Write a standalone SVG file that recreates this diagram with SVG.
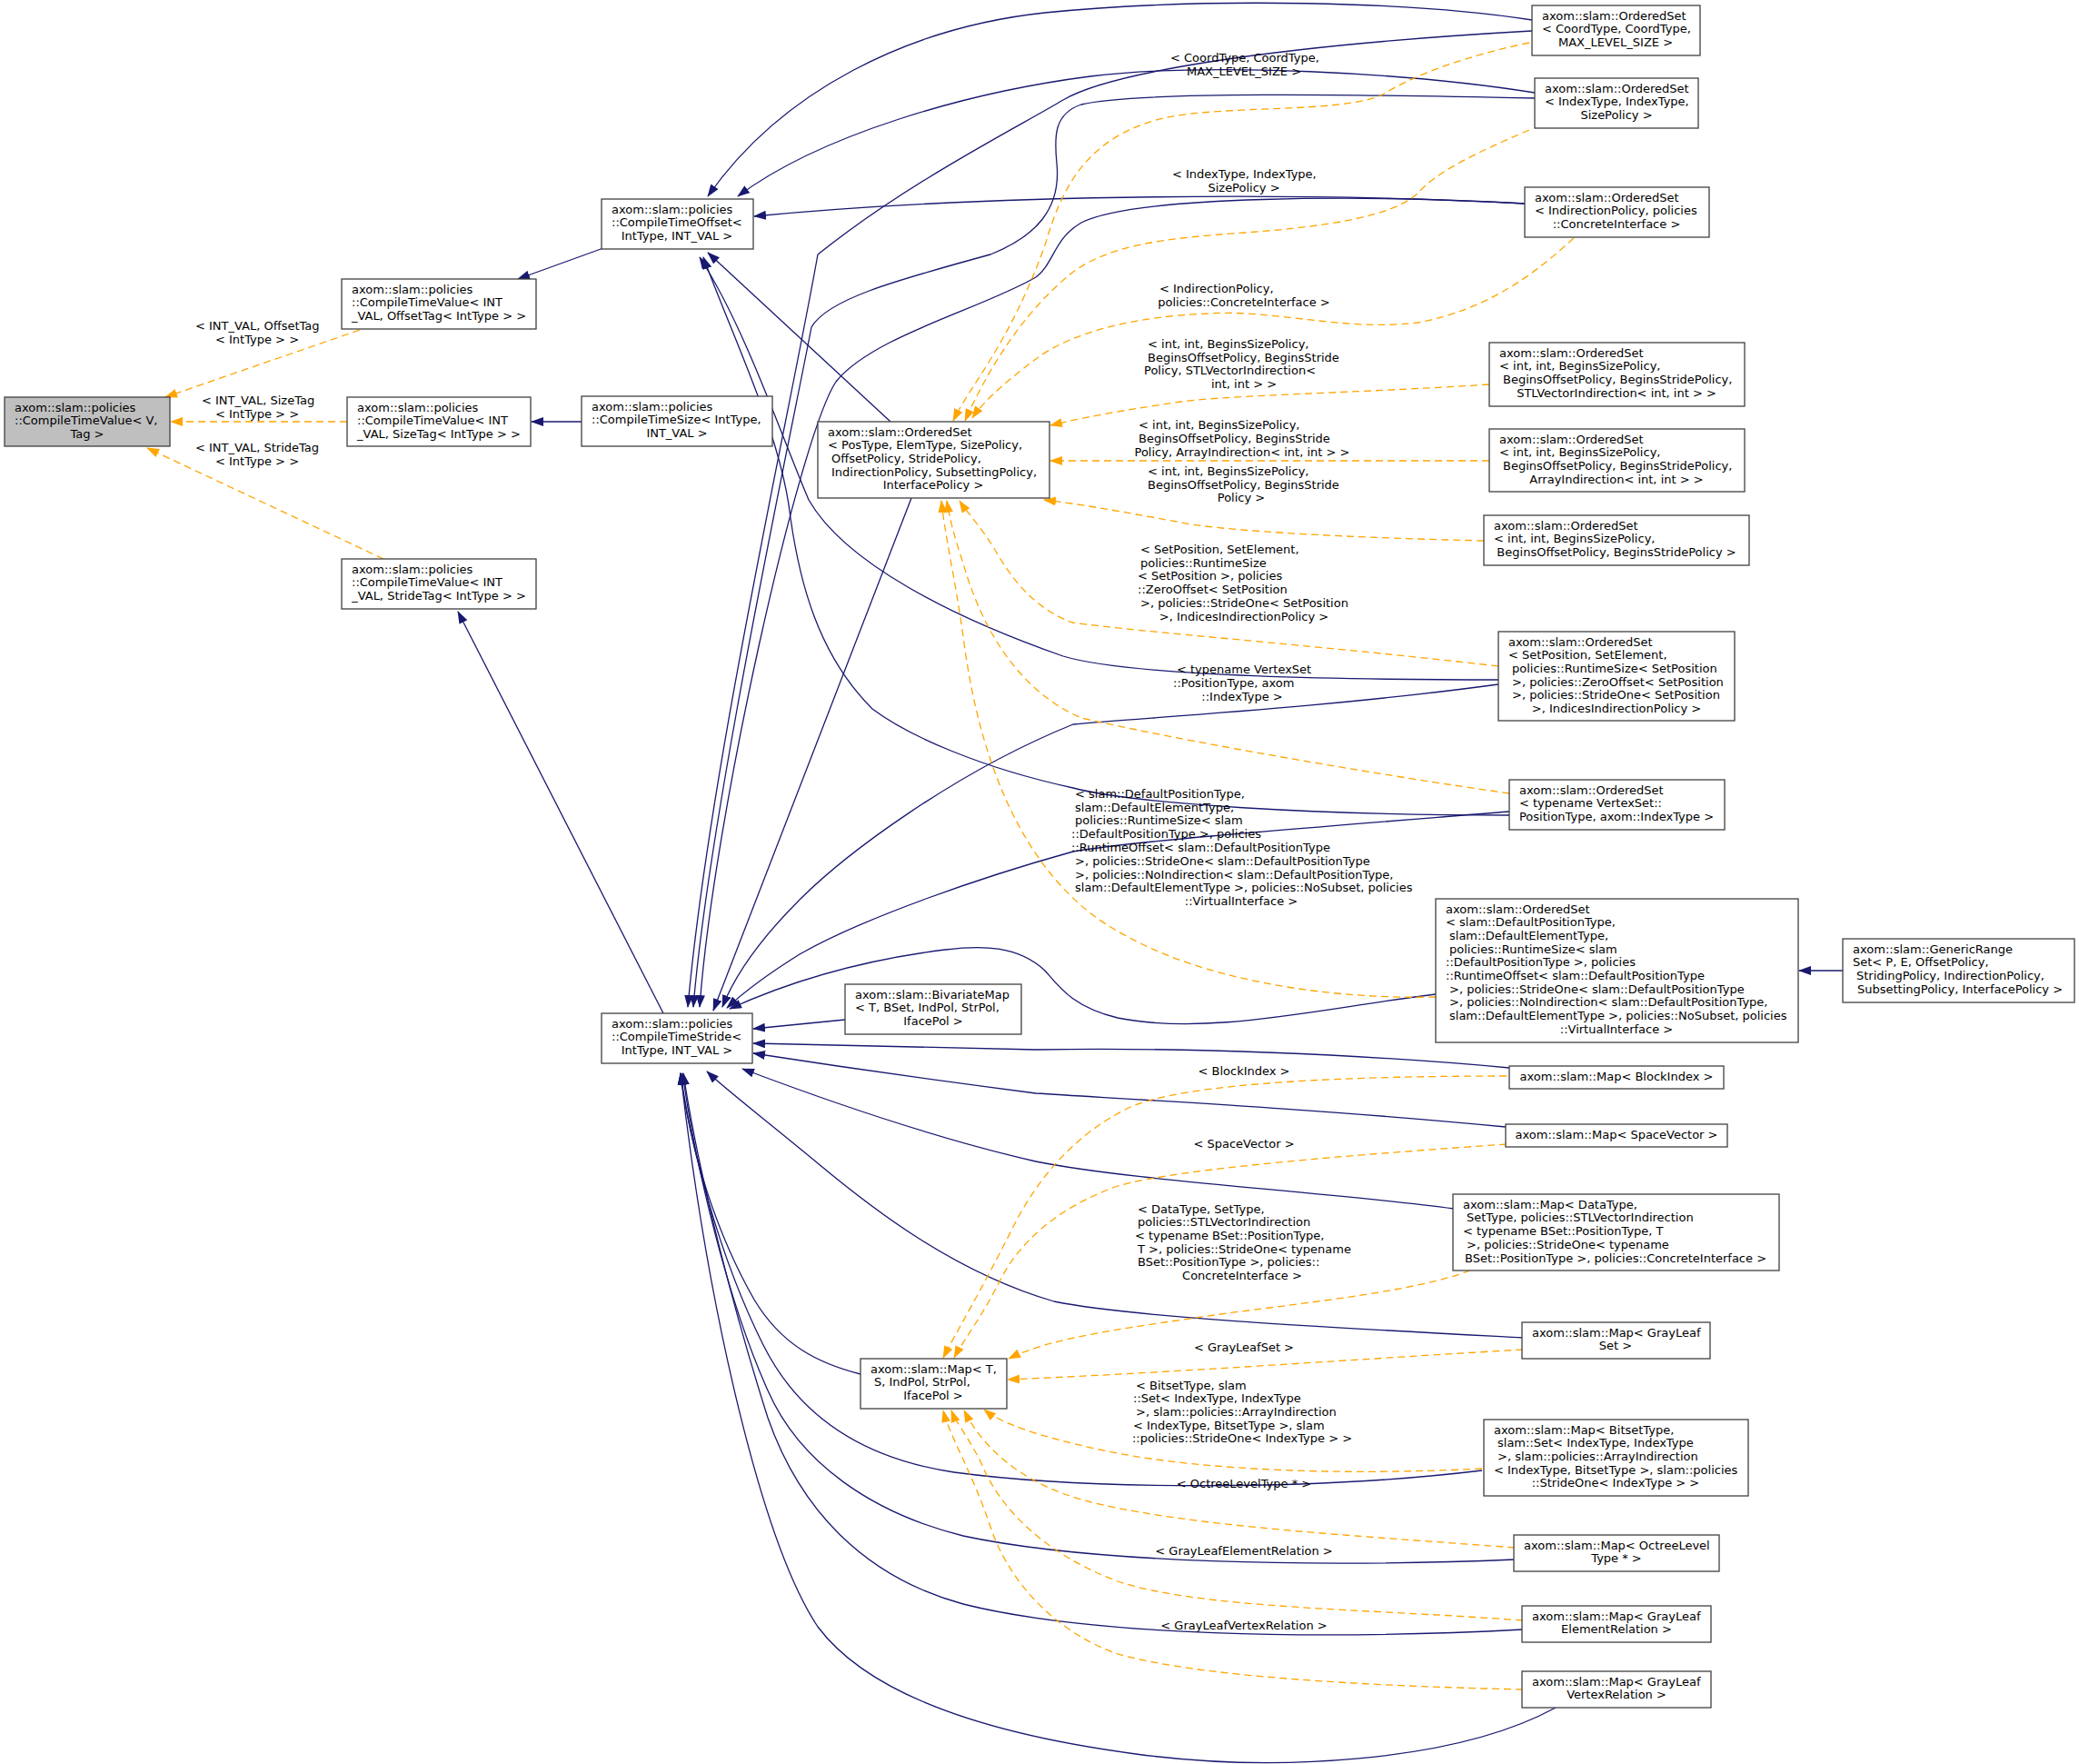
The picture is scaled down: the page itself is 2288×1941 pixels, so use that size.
<svg xmlns="http://www.w3.org/2000/svg" width="2288" height="1941" viewBox="0 0 2288 1941">
<style>
text{font-family:"DejaVu Sans","Liberation Sans",sans-serif;font-size:13px;fill:#000}
.m{text-anchor:middle}
.n rect{fill:#fff;stroke:#404040;stroke-width:1.3}
.root rect{fill:#bfbfbf;stroke:#404040;stroke-width:1.3}
.e path{fill:none;stroke-width:1.3}
.e .b{stroke:#191970;marker-end:url(#ab)}
.e .o{stroke:#ffa500;stroke-dasharray:8,5;marker-end:url(#ao)}
</style>
<defs>
<marker id="ab" viewBox="0 0 14 10" refX="13" refY="5" markerWidth="14" markerHeight="10" markerUnits="userSpaceOnUse" orient="auto"><path d="M0,0 L14,5 L0,10 z" fill="#191970"/></marker>
<marker id="ao" viewBox="0 0 14 10" refX="13" refY="5" markerWidth="14" markerHeight="10" markerUnits="userSpaceOnUse" orient="auto"><path d="M0,0 L14,5 L0,10 z" fill="#ffa500"/></marker>
</defs>
<rect width="2288" height="1941" fill="#fff"/>
<g id="edges" class="e">
<path class="b" d="M664,273 L570,307"/>
<path class="b" d="M640,464 L585,464"/>
<path class="b" d="M730,1115 L504,673"/>
<path class="b" d="M980,464 L779,278"/>
<path class="b" d="M1003,548 L785,1112"/>
<path class="b" d="M1686,22 C1560,2 1330,-4 1150,14 C1000,30 860,100 779,216"/>
<path class="b" d="M1689,102 C1550,80 1330,68 1200,84 C1060,102 900,150 812,216"/>
<path class="b" d="M1678,224 C1450,212 1100,212 830,238"/>
<path class="b" d="M1686,34 C1400,50 1220,80 1170,110 C1120,140 1000,200 900,280 C870,450 780,850 757,1108"/>
<path class="b" d="M1689,108 C1500,104 1250,100 1190,115 C1160,125 1160,150 1163,180 C1168,230 1140,260 1090,280 C980,310 910,330 893,360 C870,480 780,900 763,1108"/>
<path class="b" d="M1678,224 C1500,214 1250,215 1190,245 C1160,262 1160,290 1140,305 C1080,340 960,370 920,420 C880,480 785,900 770,1108"/>
<path class="b" d="M1649,748 C1400,748 1230,740 1170,722 C1050,680 930,620 890,550 C860,480 820,360 770,283"/>
<path class="b" d="M1661,897 C1450,897 1250,885 1181,867 C1080,845 1000,810 960,780 C900,720 880,640 870,570 C860,480 810,380 774,283"/>
<path class="b" d="M1649,753 C1450,780 1250,790 1181,797 C1050,850 930,940 880,990 C840,1030 810,1070 795,1108"/>
<path class="b" d="M1661,893 C1450,910 1250,925 1181,937 C1080,965 950,1010 880,1050 C840,1075 815,1095 800,1109"/>
<path class="b" d="M1580,1094 C1450,1110 1330,1140 1230,1120 C1180,1108 1165,1085 1150,1068 C1120,1040 1080,1040 1040,1045 C960,1055 880,1075 803,1110"/>
<path class="b" d="M930,1122 L829,1132"/>
<path class="b" d="M1661,1175 C1500,1160 1300,1152 1140,1155 C1000,1152 900,1150 829,1148"/>
<path class="b" d="M1657,1240 C1450,1220 1250,1210 1140,1203 C1000,1185 900,1170 829,1159"/>
<path class="b" d="M1600,1330 C1450,1310 1250,1300 1140,1278 C1040,1255 920,1215 817,1176"/>
<path class="b" d="M1676,1472 C1450,1460 1250,1450 1160,1432 C1050,1400 960,1330 900,1280 C840,1230 800,1200 778,1179"/>
<path class="b" d="M947,1512 C900,1500 860,1480 830,1430 C790,1360 760,1270 749,1181"/>
<path class="b" d="M1631,1618 C1450,1640 1200,1640 1050,1620 C950,1605 880,1560 840,1480 C790,1380 760,1260 749,1181"/>
<path class="b" d="M1667,1716 C1450,1725 1200,1720 1060,1690 C960,1665 880,1610 845,1530 C800,1430 765,1280 751,1181"/>
<path class="b" d="M1676,1793 C1450,1805 1200,1800 1060,1765 C950,1735 880,1660 845,1560 C810,1450 770,1300 752,1181"/>
<path class="b" d="M1712,1879 C1600,1940 1400,1950 1250,1930 C1100,1910 960,1870 900,1790 C840,1700 780,1450 749,1181"/>
<path class="b" d="M2028,1068 L1980,1068"/>
<path class="o" d="M396,363 L182,437"/>
<path class="o" d="M382,464 L188,464"/>
<path class="o" d="M422,615 L162,493"/>
<path class="o" d="M1683,47 C1620,60 1560,80 1520,105 C1470,125 1350,115 1280,130 C1200,150 1170,200 1150,270 C1110,380 1070,420 1049,463"/>
<path class="o" d="M1683,143 C1620,170 1580,190 1560,213 C1530,240 1450,250 1370,256 C1280,262 1220,270 1180,300 C1130,340 1090,400 1062,463"/>
<path class="o" d="M1732,262 C1690,300 1640,340 1560,355 C1480,365 1400,340 1330,345 C1250,348 1180,365 1140,395 C1100,425 1080,445 1070,460"/>
<path class="o" d="M1639,423 C1500,432 1350,435 1300,442 C1230,452 1190,460 1156,468"/>
<path class="o" d="M1639,507 L1156,507"/>
<path class="o" d="M1633,595 C1500,592 1350,585 1300,575 C1230,562 1190,555 1149,550"/>
<path class="o" d="M1649,733 C1450,710 1250,695 1180,685 C1140,670 1115,640 1095,605 C1080,580 1065,565 1056,551"/>
<path class="o" d="M1661,873 C1500,850 1300,815 1190,790 C1120,760 1080,690 1060,620 C1050,590 1045,570 1042,551"/>
<path class="o" d="M1580,1097 C1450,1100 1320,1075 1240,1030 C1140,980 1080,860 1060,700 C1050,630 1040,590 1036,551"/>
<path class="o" d="M1658,1184 C1500,1184 1300,1190 1240,1220 C1180,1250 1140,1300 1115,1350 C1080,1420 1050,1470 1038,1494"/>
<path class="o" d="M1658,1259 C1500,1270 1300,1285 1230,1305 C1160,1330 1120,1370 1100,1410 C1080,1450 1060,1475 1050,1494"/>
<path class="o" d="M1618,1398 C1560,1420 1450,1432 1350,1445 C1250,1460 1160,1470 1110,1495"/>
<path class="o" d="M1676,1485 C1500,1495 1300,1510 1109,1518"/>
<path class="o" d="M1631,1616 C1450,1625 1300,1615 1210,1595 C1140,1580 1100,1565 1083,1551"/>
<path class="o" d="M1667,1703 C1500,1690 1300,1680 1190,1650 C1120,1630 1080,1590 1061,1552"/>
<path class="o" d="M1676,1783 C1500,1770 1320,1770 1230,1740 C1150,1710 1100,1660 1080,1610 C1065,1580 1052,1565 1047,1552"/>
<path class="o" d="M1676,1859 C1500,1855 1320,1845 1230,1820 C1160,1795 1110,1740 1090,1680 C1070,1620 1045,1580 1038,1552"/>
</g>
<g id="edge-labels">
<text x="215" y="363">&lt; INT_VAL, OffsetTag</text><text class="m" x="283" y="378">&lt; IntType &gt; &gt;</text>
<text x="222" y="445">&lt; INT_VAL, SizeTag</text><text class="m" x="283" y="460">&lt; IntType &gt; &gt;</text>
<text x="215" y="497">&lt; INT_VAL, StrideTag</text><text class="m" x="283" y="512">&lt; IntType &gt; &gt;</text>
<text x="1288" y="68">&lt; CoordType, CoordType,</text><text class="m" x="1369" y="83">MAX_LEVEL_SIZE &gt;</text>
<text x="1290" y="196">&lt; IndexType, IndexType,</text><text class="m" x="1369" y="211">SizePolicy &gt;</text>
<text x="1276" y="322">&lt; IndirectionPolicy,</text><text class="m" x="1369" y="337">policies::ConcreteInterface &gt;</text>
<text x="1263" y="383">&lt; int, int, BeginsSizePolicy,</text><text x="1263" y="398">BeginsOffsetPolicy, BeginsStride</text><text x="1259" y="412">Policy, STLVectorIndirection&lt;</text><text class="m" x="1369" y="427">int, int &gt; &gt;</text>
<text x="1253" y="472">&lt; int, int, BeginsSizePolicy,</text><text x="1253" y="487">BeginsOffsetPolicy, BeginsStride</text><text class="m" x="1367" y="502">Policy, ArrayIndirection&lt; int, int &gt; &gt;</text>
<text x="1263" y="523">&lt; int, int, BeginsSizePolicy,</text><text x="1263" y="538">BeginsOffsetPolicy, BeginsStride</text><text class="m" x="1366" y="552">Policy &gt;</text>
<text x="1255" y="609">&lt; SetPosition, SetElement,</text><text x="1255" y="624">policies::RuntimeSize</text><text x="1252" y="638">&lt; SetPosition &gt;, policies</text><text x="1252" y="653">::ZeroOffset&lt; SetPosition</text><text x="1255" y="668">&gt;, policies::StrideOne&lt; SetPosition</text><text class="m" x="1369" y="683">&gt;, IndicesIndirectionPolicy &gt;</text>
<text x="1295" y="741">&lt; typename VertexSet</text><text x="1291" y="756">::PositionType, axom</text><text class="m" x="1367" y="771">::IndexType &gt;</text>
<text x="1183" y="878">&lt; slam::DefaultPositionType,</text><text x="1183" y="893">slam::DefaultElementType,</text><text x="1183" y="907">policies::RuntimeSize&lt; slam</text><text x="1179" y="922">::DefaultPositionType &gt;, policies</text><text x="1179" y="937">::RuntimeOffset&lt; slam::DefaultPositionType</text><text x="1183" y="952">&gt;, policies::StrideOne&lt; slam::DefaultPositionType</text><text x="1183" y="967">&gt;, policies::NoIndirection&lt; slam::DefaultPositionType,</text><text x="1183" y="981">slam::DefaultElementType &gt;, policies::NoSubset, policies</text><text class="m" x="1366" y="996">::VirtualInterface &gt;</text>
<text class="m" x="1369" y="1183">&lt; BlockIndex &gt;</text>
<text class="m" x="1369" y="1263">&lt; SpaceVector &gt;</text>
<text x="1252" y="1335">&lt; DataType, SetType,</text><text x="1252" y="1349">policies::STLVectorIndirection</text><text x="1249" y="1364">&lt; typename BSet::PositionType,</text><text x="1252" y="1379">T &gt;, policies::StrideOne&lt; typename</text><text x="1252" y="1393">BSet::PositionType &gt;, policies::</text><text class="m" x="1367" y="1408">ConcreteInterface &gt;</text>
<text class="m" x="1369" y="1487">&lt; GrayLeafSet &gt;</text>
<text x="1250" y="1529">&lt; BitsetType, slam</text><text x="1247" y="1543">::Set&lt; IndexType, IndexType</text><text x="1250" y="1558">&gt;, slam::policies::ArrayIndirection</text><text x="1247" y="1573">&lt; IndexType, BitsetType &gt;, slam</text><text class="m" x="1367" y="1587">::policies::StrideOne&lt; IndexType &gt; &gt;</text>
<text class="m" x="1369" y="1637">&lt; OctreeLevelType * &gt;</text>
<text class="m" x="1369" y="1711">&lt; GrayLeafElementRelation &gt;</text>
<text class="m" x="1369" y="1793">&lt; GrayLeafVertexRelation &gt;</text>
</g>
<g id="nodeA" class="root"><rect x="5" y="437" width="182" height="54"/><text x="16" y="453">axom::slam::policies</text><text x="16" y="467">::CompileTimeValue&lt; V,</text><text class="m" x="96" y="482">Tag &gt;</text></g>
<g id="nodeB" class="n"><rect x="376" y="307" width="214" height="55"/><text x="387" y="323">axom::slam::policies</text><text x="387" y="337">::CompileTimeValue&lt; INT</text><text class="m" x="483" y="352">_VAL, OffsetTag&lt; IntType &gt; &gt;</text></g>
<g id="nodeC" class="n"><rect x="382" y="437" width="202" height="54"/><text x="393" y="453">axom::slam::policies</text><text x="393" y="467">::CompileTimeValue&lt; INT</text><text class="m" x="483" y="482">_VAL, SizeTag&lt; IntType &gt; &gt;</text></g>
<g id="nodeD" class="n"><rect x="376" y="615" width="214" height="55"/><text x="387" y="631">axom::slam::policies</text><text x="387" y="645">::CompileTimeValue&lt; INT</text><text class="m" x="483" y="660">_VAL, StrideTag&lt; IntType &gt; &gt;</text></g>
<g id="nodeE" class="n"><rect x="640" y="436" width="210" height="55"/><text x="651" y="452">axom::slam::policies</text><text x="651" y="466">::CompileTimeSize&lt; IntType,</text><text class="m" x="745" y="481">INT_VAL &gt;</text></g>
<g id="nodeF" class="n"><rect x="662" y="219" width="167" height="55"/><text x="673" y="235">axom::slam::policies</text><text x="673" y="249">::CompileTimeOffset&lt;</text><text class="m" x="745" y="264">IntType, INT_VAL &gt;</text></g>
<g id="nodeG" class="n"><rect x="662" y="1115" width="166" height="55"/><text x="673" y="1131">axom::slam::policies</text><text x="673" y="1145">::CompileTimeStride&lt;</text><text class="m" x="745" y="1160">IntType, INT_VAL &gt;</text></g>
<g id="nodeH" class="n"><rect x="900" y="464" width="255" height="84"/><text x="911" y="480">axom::slam::OrderedSet</text><text x="911" y="494">&lt; PosType, ElemType, SizePolicy,</text><text x="915" y="509">OffsetPolicy, StridePolicy,</text><text x="915" y="524">IndirectionPolicy, SubsettingPolicy,</text><text class="m" x="1027" y="538">InterfacePolicy &gt;</text></g>
<g id="nodeI" class="n"><rect x="930" y="1083" width="194" height="55"/><text x="941" y="1099">axom::slam::BivariateMap</text><text x="941" y="1113">&lt; T, BSet, IndPol, StrPol,</text><text class="m" x="1027" y="1128">IfacePol &gt;</text></g>
<g id="nodeJ" class="n"><rect x="947" y="1495" width="161" height="55"/><text x="958" y="1511">axom::slam::Map&lt; T,</text><text x="962" y="1525">S, IndPol, StrPol,</text><text class="m" x="1027" y="1540">IfacePol &gt;</text></g>
<g id="nodeK" class="n"><rect x="1686" y="6" width="185" height="55"/><text x="1697" y="22">axom::slam::OrderedSet</text><text x="1697" y="36">&lt; CoordType, CoordType,</text><text class="m" x="1778" y="51">MAX_LEVEL_SIZE &gt;</text></g>
<g id="nodeL" class="n"><rect x="1689" y="86" width="180" height="55"/><text x="1700" y="102">axom::slam::OrderedSet</text><text x="1700" y="116">&lt; IndexType, IndexType,</text><text class="m" x="1779" y="131">SizePolicy &gt;</text></g>
<g id="nodeM" class="n"><rect x="1678" y="206" width="203" height="55"/><text x="1689" y="222">axom::slam::OrderedSet</text><text x="1689" y="236">&lt; IndirectionPolicy, policies</text><text class="m" x="1779" y="251">::ConcreteInterface &gt;</text></g>
<g id="nodeN" class="n"><rect x="1639" y="377" width="281" height="70"/><text x="1650" y="393">axom::slam::OrderedSet</text><text x="1650" y="407">&lt; int, int, BeginsSizePolicy,</text><text x="1654" y="422">BeginsOffsetPolicy, BeginsStridePolicy,</text><text class="m" x="1779" y="437">STLVectorIndirection&lt; int, int &gt; &gt;</text></g>
<g id="nodeO" class="n"><rect x="1639" y="472" width="281" height="69"/><text x="1650" y="488">axom::slam::OrderedSet</text><text x="1650" y="502">&lt; int, int, BeginsSizePolicy,</text><text x="1654" y="517">BeginsOffsetPolicy, BeginsStridePolicy,</text><text class="m" x="1779" y="532">ArrayIndirection&lt; int, int &gt; &gt;</text></g>
<g id="nodeP" class="n"><rect x="1633" y="567" width="292" height="55"/><text x="1644" y="583">axom::slam::OrderedSet</text><text x="1644" y="597">&lt; int, int, BeginsSizePolicy,</text><text class="m" x="1779" y="612">BeginsOffsetPolicy, BeginsStridePolicy &gt;</text></g>
<g id="nodeQ" class="n"><rect x="1649" y="695" width="260" height="98"/><text x="1660" y="711">axom::slam::OrderedSet</text><text x="1660" y="725">&lt; SetPosition, SetElement,</text><text x="1664" y="740">policies::RuntimeSize&lt; SetPosition</text><text x="1664" y="755">&gt;, policies::ZeroOffset&lt; SetPosition</text><text x="1664" y="769">&gt;, policies::StrideOne&lt; SetPosition</text><text class="m" x="1779" y="784">&gt;, IndicesIndirectionPolicy &gt;</text></g>
<g id="nodeR" class="n"><rect x="1661" y="858" width="237" height="55"/><text x="1672" y="874">axom::slam::OrderedSet</text><text x="1672" y="888">&lt; typename VertexSet::</text><text class="m" x="1779" y="903">PositionType, axom::IndexType &gt;</text></g>
<g id="nodeS" class="n"><rect x="1580" y="989" width="399" height="158"/><text x="1591" y="1005">axom::slam::OrderedSet</text><text x="1591" y="1019">&lt; slam::DefaultPositionType,</text><text x="1595" y="1034">slam::DefaultElementType,</text><text x="1595" y="1049">policies::RuntimeSize&lt; slam</text><text x="1591" y="1063">::DefaultPositionType &gt;, policies</text><text x="1591" y="1078">::RuntimeOffset&lt; slam::DefaultPositionType</text><text x="1595" y="1093">&gt;, policies::StrideOne&lt; slam::DefaultPositionType</text><text x="1595" y="1107">&gt;, policies::NoIndirection&lt; slam::DefaultPositionType,</text><text x="1595" y="1122">slam::DefaultElementType &gt;, policies::NoSubset, policies</text><text class="m" x="1779" y="1137">::VirtualInterface &gt;</text></g>
<g id="nodeT" class="n"><rect x="2028" y="1033" width="255" height="70"/><text x="2039" y="1049">axom::slam::GenericRange</text><text x="2039" y="1063">Set&lt; P, E, OffsetPolicy,</text><text x="2043" y="1078">StridingPolicy, IndirectionPolicy,</text><text class="m" x="2157" y="1093">SubsettingPolicy, InterfacePolicy &gt;</text></g>
<g id="nodeU" class="n"><rect x="1661" y="1173" width="236" height="25"/><text class="m" x="1779" y="1189">axom::slam::Map&lt; BlockIndex &gt;</text></g>
<g id="nodeV" class="n"><rect x="1657" y="1237" width="244" height="25"/><text class="m" x="1779" y="1253">axom::slam::Map&lt; SpaceVector &gt;</text></g>
<g id="nodeW" class="n"><rect x="1599" y="1314" width="359" height="84"/><text x="1610" y="1330">axom::slam::Map&lt; DataType,</text><text x="1614" y="1344">SetType, policies::STLVectorIndirection</text><text x="1610" y="1359">&lt; typename BSet::PositionType, T</text><text x="1614" y="1374">&gt;, policies::StrideOne&lt; typename</text><text class="m" x="1778" y="1389">BSet::PositionType &gt;, policies::ConcreteInterface &gt;</text></g>
<g id="nodeX" class="n"><rect x="1675" y="1455" width="207" height="40"/><text x="1686" y="1471">axom::slam::Map&lt; GrayLeaf</text><text class="m" x="1778" y="1485">Set &gt;</text></g>
<g id="nodeY" class="n"><rect x="1633" y="1562" width="291" height="84"/><text x="1644" y="1578">axom::slam::Map&lt; BitsetType,</text><text x="1648" y="1592">slam::Set&lt; IndexType, IndexType</text><text x="1648" y="1607">&gt;, slam::policies::ArrayIndirection</text><text x="1644" y="1622">&lt; IndexType, BitsetType &gt;, slam::policies</text><text class="m" x="1778" y="1636">::StrideOne&lt; IndexType &gt; &gt;</text></g>
<g id="nodeZ" class="n"><rect x="1666" y="1689" width="226" height="40"/><text x="1677" y="1705">axom::slam::Map&lt; OctreeLevel</text><text class="m" x="1779" y="1719">Type * &gt;</text></g>
<g id="nodeAA" class="n"><rect x="1675" y="1767" width="208" height="40"/><text x="1686" y="1783">axom::slam::Map&lt; GrayLeaf</text><text class="m" x="1779" y="1797">ElementRelation &gt;</text></g>
<g id="nodeAB" class="n"><rect x="1675" y="1839" width="208" height="40"/><text x="1686" y="1855">axom::slam::Map&lt; GrayLeaf</text><text class="m" x="1779" y="1869">VertexRelation &gt;</text></g>
</svg>
